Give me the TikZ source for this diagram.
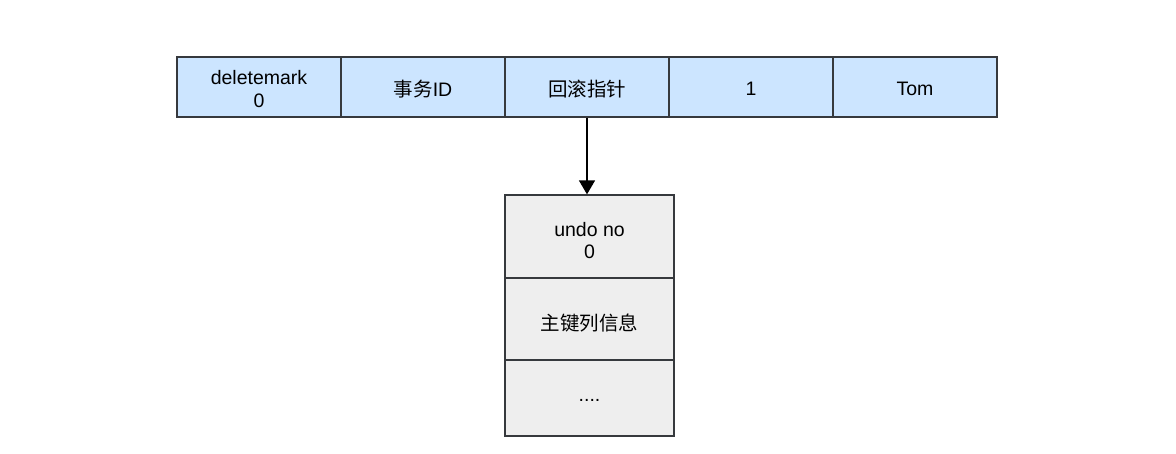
\documentclass[tikz,border=0pt]{standalone}
\usepackage{fontspec}
\setmainfont{Liberation Sans}
\newfontfamily\cjk{Noto Sans CJK SC}
\usetikzlibrary{arrows.meta}
\definecolor{bluefill}{HTML}{CCE5FF}
\definecolor{grayfill}{HTML}{EEEEEE}
\definecolor{edge}{HTML}{36393D}
\begin{document}
\begin{tikzpicture}[x=1pt,y=-1pt,
  cellbox/.style={draw=edge,line width=1.3pt,minimum width=164pt,minimum height=60pt,inner sep=0pt},
  celltext/.style={align=center,inner sep=0pt,font=\fontsize{19.5}{22.5}\selectfont,yshift=-2pt},
  topcell/.style={cellbox,fill=bluefill},
  undocell/.style={cellbox,fill=grayfill,minimum width=169pt}]
\useasboundingbox (0,0) rectangle (1176,454);
\node[topcell] (c1) at (259,87) {};
\node[topcell] (c2) at (423,87) {};
\node[topcell] (c3) at (587,87) {};
\node[topcell] (c4) at (751,87) {};
\node[topcell] (c5) at (915,87) {};
\node[undocell,minimum height=83pt] (u1) at (589.5,236.5) {};
\node[undocell,minimum height=82pt] (u2) at (589.5,319) {};
\node[undocell,minimum height=76pt] (u3) at (589.5,398) {};
\node[celltext] (t1) at (c1) {deletemark\\0};
\node[celltext] (t2) at (c2) {{\cjk 事务}ID};
\node[celltext] (t3) at (c3) {\cjk 回滚指针};
\node[celltext] (t4) at (c4) {1};
\node[celltext] (t5) at (c5) {Tom};
\node[celltext,yshift=-2pt] (s1) at (u1) {undo no\\0};
\node[celltext,yshift=-2pt] (s2) at (u2) {\cjk 主键列信息};
\node[celltext] (s3) at (u3) {....};
\draw[line width=1.5pt,-{Triangle[length=14pt,width=16pt]}] (c3.south) -- (c3.south |- u1.north);
\end{tikzpicture}
\end{document}
